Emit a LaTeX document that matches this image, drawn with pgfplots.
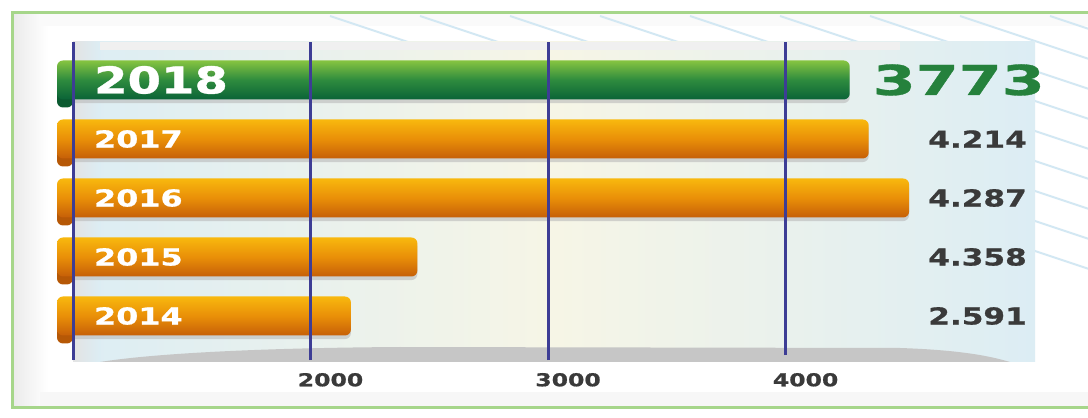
\documentclass[border=0pt]{standalone}
\usepackage{pgfplots}
\pgfplotsset{compat=1.18}
\usepackage{graphicx}
\usepackage{fontspec}
\setmainfont{DejaVu Sans}[BoldFeatures={FakeBold=0.8}]

\definecolor{gridblue}{HTML}{3D3D95}
\definecolor{orTop}{HTML}{F8B80E}
\definecolor{orMid}{HTML}{E98F08}
\definecolor{orBot}{HTML}{C65F08}
\definecolor{orFold}{HTML}{B65806}
\definecolor{grTop}{HTML}{86C440}
\definecolor{grMid}{HTML}{2E8B3E}
\definecolor{grBot}{HTML}{0A6337}
\definecolor{grFold}{HTML}{0B5A30}
\definecolor{valgrey}{HTML}{3A3A3A}
\definecolor{framegreen}{HTML}{A6D68A}
\definecolor{panelblue}{HTML}{DCEDF4}
\definecolor{panelcream}{HTML}{F6F5E6}
\definecolor{stripe}{HTML}{D3E8F3}

% wide lettering, as in the original graphic
\newcommand{\yr}[1]{\scalebox{1.36}[1]{#1}}
\newcommand{\yrbig}[1]{{\fontsize{18.5}{20}\selectfont\scalebox{1.3}[1]{#1}}}
\newcommand{\tk}[1]{\scalebox{1.32}[1]{#1}}

% bar lengths as drawn, one row per year (y = 0 is 2014)
\pgfplotstableread{
x    y
2170 0
2450 1
4520 2
4350 3
}\orange
\pgfplotstableread{
x    y
4270 4
}\green
\pgfplotstableread{
x    y lab
5045 0 2.591
5045 1 4.358
5045 2 4.287
5045 3 4.214
}\values

\pgfplotsset{
  ribbon/.style={xbar, bar shift=0pt, draw=none, rounded corners=3pt},
}

\begin{document}
\begin{tikzpicture}[x=0.5pt,y=0.5pt]
\useasboundingbox (0,0) rectangle (1088,418);
% background (pixel units, y up)
\fill[white] (0,0) rectangle (1088,418);
\shade[left color=gray!16, right color=white] (13,11) rectangle (48,404);
\fill[gray!6] (40,11) rectangle (1088,26);
\fill[gray!4] (40,392) rectangle (1088,404);
\begin{scope}
  \clip (40,26) rectangle (1088,402);
  \foreach \k in {0,...,12}
    \draw[stripe, line width=1pt] ({330+90*\k},402) -- ++(900,-300);
\end{scope}
\shade[left color=panelblue, right color=panelblue, middle color=panelcream]
  (73,56) rectangle (1035,376);
\shade[left color=gray!22, right color=panelblue] (73,56) rectangle (100,376);
\fill[gray!12] (100,368) rectangle (900,376);
\fill[gray!45] (100,56) .. controls (150,64) and (250,70) .. (400,71)
  -- (900,70) .. controls (960,68) and (990,62) .. (1010,56) -- cycle;
\draw[framegreen, line width=1.5pt] (12,10) rectangle (1100,405);

\begin{axis}[
  at={(28.5pt,29pt)}, anchor=south west,
  scale only axis, width=489pt, height=159pt,
  xmin=932.6, xmax=5050, ymin=-0.746, ymax=4.644,
  axis line style={draw=none},
  xtick={1000,2000,3000,4000},
  xticklabels={,\tk{2000},\tk{3000},\tk{4000}},
  ytick={0,1,2,3,4},
  yticklabels={\yr{2014},\yr{2015},\yr{2016},\yr{2017},\yrbig{2018}},
  major tick length=0pt,
  xmajorgrids,
  major grid style={gridblue, line width=1.5pt, shorten <=2.5pt},
  axis on top,
  clip mode=individual,
  bar width=19.5pt,
  yticklabel style={anchor=west, xshift=15pt, text=white,
    font=\bfseries\fontsize{11.7}{13}\selectfont},
  xticklabel style={xshift=10pt, yshift=-3pt, text=valgrey,
    font=\bfseries\fontsize{8.9}{10}\selectfont},
]
% soft shadows under the bars
\addplot[ribbon, bar shift=-1.8pt, fill=gray!55, fill opacity=0.6]
  table[x=x, y=y] {\orange};
\addplot[ribbon, bar shift=-1.8pt, fill=gray!55, fill opacity=0.6]
  table[x=x, y=y] {\green};
% folded ribbon ends at the left
\addplot[ribbon, bar shift=-4pt, fill=orFold] coordinates
  {(1000,0) (1000,1) (1000,2) (1000,3)};
\addplot[ribbon, bar shift=-4pt, fill=grFold] coordinates {(1000,4)};
% the bars
\addplot[ribbon, top color=orTop, bottom color=orBot, middle color=orMid]
  coordinates {(2170,0)};
\addplot[ribbon, top color=orTop, bottom color=orBot, middle color=orMid]
  coordinates {(2450,1)};
\addplot[ribbon, top color=orTop, bottom color=orBot, middle color=orMid]
  coordinates {(4520,2)};
\addplot[ribbon, top color=orTop, bottom color=orBot, middle color=orMid]
  coordinates {(4350,3)};
\addplot[ribbon, top color=grTop, bottom color=grBot, middle color=grMid]
  coordinates {(4270,4)};

% value labels in the right-hand column
\addplot[draw=none, mark=none, point meta=explicit symbolic,
  nodes near coords={\scalebox{1.33}[1]{\pgfplotspointmeta}},
  nodes near coords style={anchor=east, text=valgrey,
    font=\bfseries\fontsize{11.7}{13}\selectfont}]
  table[x=x, y=y, meta=lab] {\values};
\addplot[draw=none, mark=none, point meta=explicit symbolic,
  nodes near coords={\scalebox{1.5}[1]{\pgfplotspointmeta}},
  nodes near coords style={anchor=east, xshift=9pt, text=grMid!75!grBot,
    font=\bfseries\fontsize{20.6}{22}\selectfont}]
  table[meta=lab] {
x    y lab
5045 4 3773
};
\end{axis}
\end{tikzpicture}
\end{document}
